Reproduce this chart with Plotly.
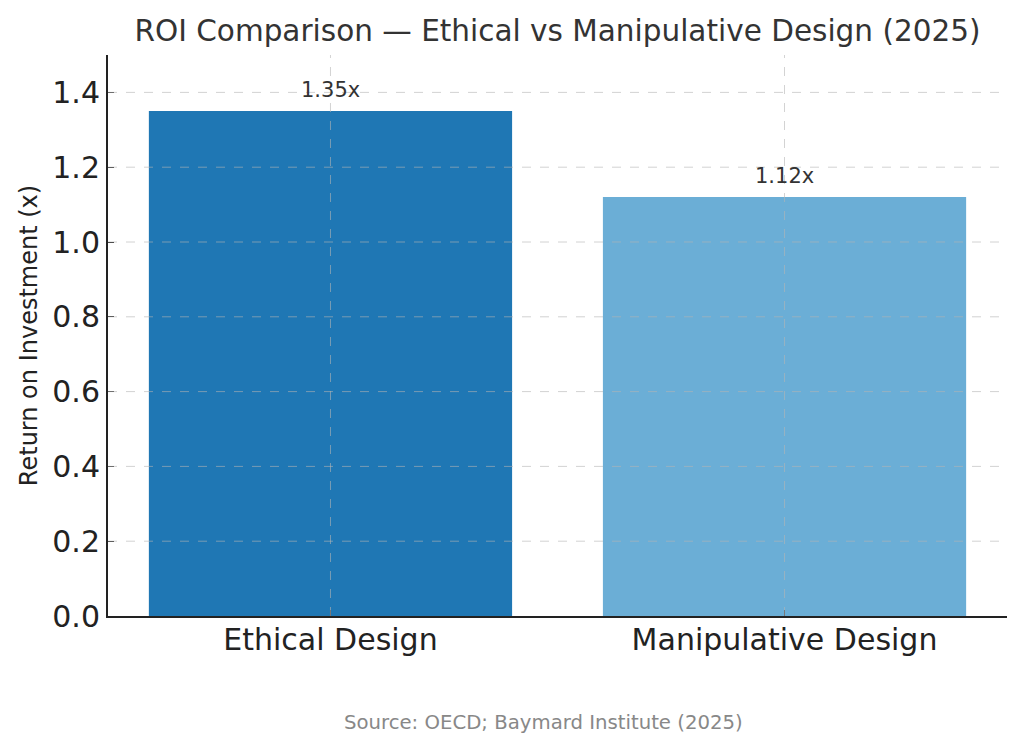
import plotly.graph_objects as go

categories = ["Ethical Design", "Manipulative Design"]
roi_values = [1.35, 1.12]
bar_colors = ["#1f77b4", "#6baed6"]
value_labels = ["1.35x", "1.12x"]
y_ticks = [0.0, 0.2, 0.4, 0.6, 0.8, 1.0, 1.2, 1.4]

FONT = "DejaVu Sans"

fig = go.Figure()
fig.add_trace(go.Bar(
    x=categories, y=roi_values, marker=dict(color=bar_colors, line=dict(width=0)),
    width=0.8,
))

for c, v, lbl in zip(categories, roi_values, value_labels):
    fig.add_annotation(x=c, y=v, text=lbl, showarrow=False, xanchor="center", yanchor="bottom",
                       yshift=7, font=dict(family=FONT, size=21, color="#333333"))

# dashed gridlines drawn above bars
shapes = []
for yv in y_ticks[1:]:
    shapes.append(dict(type="line", xref="paper", yref="y", x0=0, x1=1, y0=yv, y1=yv,
                       line=dict(color="rgba(180,180,180,0.6)", width=1, dash="dash"), layer="above"))
for c in categories:
    shapes.append(dict(type="line", xref="x", yref="paper", x0=c, x1=c, y0=0, y1=1,
                       line=dict(color="rgba(180,180,180,0.6)", width=1, dash="dash"), layer="above"))
fig.update_layout(shapes=shapes)

fig.update_layout(
    width=1024, height=750,
    margin=dict(l=108, r=17, t=55, b=134),
    paper_bgcolor="white", plot_bgcolor="white",
    font=dict(family=FONT, color="#222222"),
    title=dict(text="ROI Comparison — Ethical vs Manipulative Design (2025)",
               xref="paper", x=0.5, xanchor="center", y=0.959, yanchor="middle",
               font=dict(family=FONT, size=29.5, color="#333333")),
    showlegend=False,
    bargap=0.2,
)
fig.update_xaxes(
    range=[-0.49, 1.49], showgrid=False, showline=True, linecolor="#222222", linewidth=2,
    ticks="inside", ticklen=6, tickcolor="#222222", tickwidth=1, layer="above traces",
    ticklabelstandoff=-4,
    tickfont=dict(family=FONT, size=30, color="#222222"), mirror=False,
)
fig.update_yaxes(
    range=[0, 1.5], tickvals=y_ticks, ticktext=[f"{v:.1f}" for v in y_ticks],
    showgrid=False, showline=True, linecolor="#222222", linewidth=2, zeroline=False,
    ticks="inside", ticklen=6, tickcolor="#222222", tickwidth=1, layer="above traces",
    tickfont=dict(family=FONT, size=30, color="#222222"),
    title=dict(text="Return on Investment (x)", font=dict(family=FONT, size=24, color="#222222"), standoff=8),
)
fig.add_annotation(text="Source: OECD; Baymard Institute (2025)", xref="paper", yref="paper",
                   x=0.484, y=-0.189, xanchor="center", yanchor="middle", showarrow=False,
                   font=dict(family=FONT, size=19.7, color="#888888"))

fig.write_html("out.html")
